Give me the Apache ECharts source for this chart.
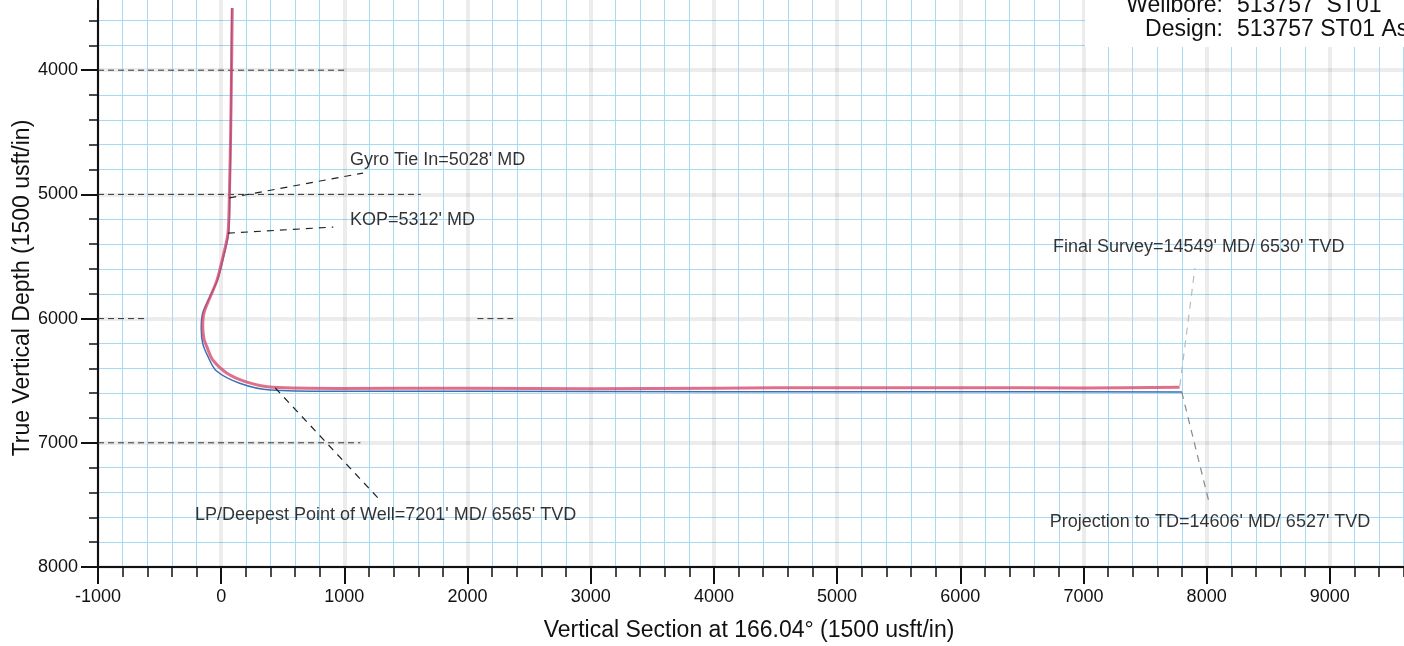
<!DOCTYPE html>
<html><head><meta charset="utf-8">
<script src="https://cdn.jsdelivr.net/npm/echarts@6/dist/echarts.min.js"></script>
<style>html,body{margin:0;padding:0;background:#fff}#c{width:1404px;height:646px}</style>
</head><body><div id="c"></div>
<script>
// ---- data (Vertical Section, TVD) ----
const actualVS  = [90, 84, 77, 66, 55, 15, -34, -91, -140, -150, -140, -115, -67, 47, 209, 420, 964, 2000, 3000, 4000, 5000, 6000, 7000, 7780];
const actualTVD = [3500, 4000, 4500, 5028, 5312, 5500, 5690, 5830, 5955, 6060, 6160, 6230, 6335, 6440, 6511, 6553, 6562, 6560, 6565, 6560, 6556, 6556, 6558, 6552];
const planVS    = [86, 78, 70, 60, 20, -30, -95, -150, -162, -150, -110, -40, 150, 400, 900, 2000, 4000, 6000, 7800];
const planTVD   = [3500, 4500, 5000, 5312, 5500, 5690, 5830, 5955, 6080, 6200, 6300, 6420, 6520, 6575, 6585, 6585, 6588, 6588, 6590];

const annTexts  = ["Gyro Tie In=5028' MD", "KOP=5312' MD", "LP/Deepest Point of Well=7201' MD/ 6565' TVD", "Final Survey=14549' MD/ 6530' TVD", "Projection to TD=14606' MD/ 6527' TVD"];
const annTextVS  = [1045, 1045, -213, 6752, 6727];
const annTextTVD = [4724, 5207, 7581, 5424, 7638];
const annFromVS  = [66, 55, 439, 7782, 7798];
const annFromTVD = [5028, 5312, 6559, 6543, 6591];
const annToVS    = [1151, 910, 1289, 7905, 8025];
const annToTVD   = [4828, 5263, 7461, 5593, 7501];
const annColors  = ['#222', '#222', '#222', '#bbb', '#888'];

// dashed black fragments of major grid on the sheet
const fragTVD    = [4000, 5000, 7000, 6000, 6000];
const fragFromVS = [-1000, -1000, -1000, -1000, 2080];
const fragToVS   = [1000, 1620, 1130, -620, 2370];

const xMin = -1000, xMax = 10000, xStep = 1000;
const yMin = 3000, yMax = 8000, yStep = 1000;
const xTitle = 'Vertical Section at 166.04° (1500 usft/in)';
const yTitle = 'True Vertical Depth (1500 usft/in)';
const wellbore = ['Wellbore:', '513757  ST01'];
const design = ['Design:', '513757 ST01 As'];

const zip = (a, b) => a.map((v, i) => [v, b[i]]);
const FONT = '"Liberation Sans", Arial, sans-serif';

const series = [];
fragTVD.forEach((t, i) => series.push({
  type: 'line', data: [[fragFromVS[i], t], [fragToVS[i], t]], symbol: 'none', silent: true, z: 3,
  lineStyle: { color: '#333', width: 1, type: [6, 4] }
}));
series.push({ type: 'line', name: 'Plan', data: zip(planVS, planTVD), symbol: 'none', smooth: 0.3, z: 5,
  lineStyle: { color: '#3d6fb5', width: 1.5 } });
series.push({ type: 'line', name: 'Actual', data: zip(actualVS, actualTVD), symbol: 'none', smooth: 0.3, z: 6,
  lineStyle: { color: 'rgba(214,72,105,0.78)', width: 3 } });
annTexts.forEach((txt, i) => {
  series.push({ type: 'line', data: [[annFromVS[i], annFromTVD[i]], [annToVS[i], annToTVD[i]]], symbol: 'none', silent: true, z: 7,
    lineStyle: { color: annColors[i], width: 1.2, type: [7, 6] } });
  series.push({ type: 'scatter', data: [[annTextVS[i], annTextTVD[i]]], symbolSize: 0, silent: true, z: 8,
    label: { show: true, position: 'right', distance: 0, formatter: txt, color: '#000', fontSize: 18, fontFamily: FONT } });
});

const chart = echarts.init(document.getElementById('c'), null, { renderer: 'canvas' });
chart.setOption({
  backgroundColor: '#fff',
  animation: false,
  grid: { left: 98, top: -54, width: 1355, height: 621, containLabel: false, outerBoundsMode: 'none' },
  xAxis: {
    type: 'value', min: xMin, max: xMax, interval: xStep,
    axisLine: { show: true, onZero: false, lineStyle: { color: '#111', width: 2 } },
    axisTick: { show: true, length: 17, lineStyle: { color: '#111', width: 2 } },
    minorTick: { show: true, splitNumber: 5, length: 10, lineStyle: { color: '#111', width: 1.5 } },
    axisLabel: { margin: 21, color: '#111', fontSize: 18, fontFamily: FONT, formatter: v => String(v) },
    splitLine: { show: true, lineStyle: { color: 'rgba(120,120,120,0.14)', width: 4 } },
    minorSplitLine: { show: true, lineStyle: { color: '#a6d9f2', width: 1 } }
  },
  yAxis: {
    type: 'value', inverse: true, min: yMin, max: yMax, interval: yStep,
    axisLine: { show: true, onZero: false, lineStyle: { color: '#111', width: 2 } },
    axisTick: { show: true, length: 17, lineStyle: { color: '#111', width: 2 } },
    minorTick: { show: true, splitNumber: 5, length: 9, lineStyle: { color: '#111', width: 1.5 } },
    axisLabel: { margin: 20, color: '#111', fontSize: 18, fontFamily: FONT, formatter: v => String(v) },
    splitLine: { show: true, lineStyle: { color: 'rgba(120,120,120,0.14)', width: 4 } },
    minorSplitLine: { show: true, lineStyle: { color: '#a6d9f2', width: 1 } }
  },
  series: series,
  graphic: [
    { type: 'rect', shape: { x: 0, y: 0, width: 97, height: 8 }, style: { fill: '#fff' }, z: 49 },
    { type: 'rect', shape: { x: 1085, y: 0, width: 330, height: 47 }, style: { fill: '#fff' }, z: 50 },
    { type: 'text', x: 1223, y: 6, z: 51, style: { text: wellbore[0], align: 'right', verticalAlign: 'middle', font: '23px ' + FONT, fill: '#111' } },
    { type: 'text', x: 1237, y: 6, z: 51, style: { text: wellbore[1], align: 'left', verticalAlign: 'middle', font: '23px ' + FONT, fill: '#111' } },
    { type: 'text', x: 1223, y: 30, z: 51, style: { text: design[0], align: 'right', verticalAlign: 'middle', font: '23px ' + FONT, fill: '#111' } },
    { type: 'text', x: 1237, y: 30, z: 51, style: { text: design[1], align: 'left', verticalAlign: 'middle', font: '23px ' + FONT, fill: '#111' } },
    { type: 'text', x: 749, y: 631, z: 51, style: { text: xTitle, align: 'center', verticalAlign: 'middle', font: '23px ' + FONT, fill: '#111' } },
    { type: 'text', x: 23, y: 288, rotation: Math.PI / 2, z: 51, style: { text: yTitle, align: 'center', verticalAlign: 'middle', font: '23px ' + FONT, fill: '#111' } }
  ]
});
</script></body></html>
